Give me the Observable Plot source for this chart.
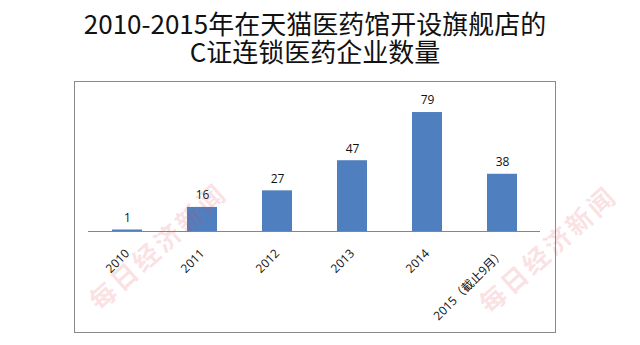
<!DOCTYPE html>
<html><head><meta charset="utf-8">
<script src="https://cdn.jsdelivr.net/npm/d3@7"></script>
<script src="https://cdn.jsdelivr.net/npm/@observablehq/plot@0.6"></script>
<style>
body{margin:0;background:#fff;width:640px;height:345px;overflow:hidden;position:relative;font-family:"Noto Sans CJK SC","Noto Sans",sans-serif}
.t{position:absolute;left:0;width:630px;text-align:center;font-size:26px;line-height:27px;height:27px;color:#111}
#box{position:absolute;left:74px;top:81px;width:480px;height:250px;border:1px solid #8a8a8a}
#chart{position:absolute;left:0;top:70px}
.wm{position:absolute;font-family:"Noto Sans CJK SC",serif;font-weight:bold;font-size:26px;color:rgba(225,70,85,0.17);white-space:nowrap;transform-origin:left center;transform:rotate(-42deg);letter-spacing:3px}
</style></head>
<body>
<div class="t" style="top:9px">2010-2015年在天猫医药馆开设旗舰店的</div>
<div class="t" style="top:37px">C证连锁医药企业数量</div>
<div id="box"></div>
<div id="chart"></div>
<div class="wm" style="left:92px;top:285px">每日经济新闻</div>
<div class="wm" style="left:482px;top:288px">每日经济新闻</div>
<script>
const years = ["2010","2011","2012","2013","2014","2015（截止9月）"];
const counts = [1,16,27,47,79,38];
const data = years.map((y,i)=>({year:y, count:counts[i]}));
const chart = Plot.plot({
  width:640, height:275,
  marginLeft:88, marginRight:100, marginTop:10.4, marginBottom:114,
  style:{background:"transparent", fontFamily:"'Open Sans','Noto Sans CJK SC',sans-serif"},
  x:{domain:years, paddingInner:0.6, paddingOuter:0.3, axis:null, label:null},
  y:{domain:[0,100], axis:null},
  marks:[
    Plot.barY(data,{x:"year", y:"count", fill:"#4f7fbf"}),
    Plot.ruleY([0],{stroke:"#868686", strokeWidth:1}),
    Plot.text(data,{x:"year", y:"count", text:d=>String(d.count), dy:-12, fontSize:12, fill:"#111"}),
    Plot.axisX({tickSize:0, tickRotate:-45, tickPadding:20, fontSize:12, fill:"#111", textAnchor:"end", label:null})
  ]
});
document.getElementById("chart").appendChild(chart);
</script>
</body></html>
